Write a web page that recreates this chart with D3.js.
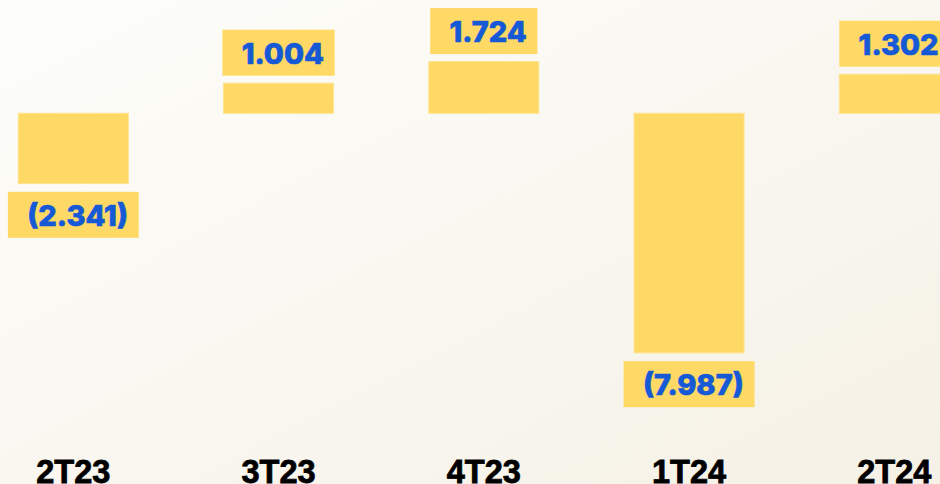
<!DOCTYPE html>
<html>
<head>
<meta charset="utf-8">
<script src="https://cdn.jsdelivr.net/npm/d3@7"></script>
<style>
  html, body { margin: 0; padding: 0; overflow: hidden; }
  body { width: 940px; height: 484px; }
</style>
</head>
<body>
<svg id="chart" width="940" height="484"></svg>
<script>
const categories = ["2T23", "3T23", "4T23", "1T24", "2T24"];
const values = [-2.341, 1.004, 1.724, -7.987, 1.302];
const valueLabels = ["(2.341)", "1.004", "1.724", "(7.987)", "1.302"];

const W = 940, H = 484;
const svg = d3.select("#chart");

const defs = svg.append("defs");
const grad = defs.append("linearGradient").attr("id", "bg")
  .attr("x1", "0%").attr("y1", "0%").attr("x2", "100%").attr("y2", "100%");
grad.append("stop").attr("offset", "0%").attr("stop-color", "#fdfdfa");
grad.append("stop").attr("offset", "100%").attr("stop-color", "#f5f1e6");
svg.append("rect").attr("width", W).attr("height", H).attr("fill", "url(#bg)");

const x = d3.scalePoint().domain(categories).range([73.3, 894.3]);
const y = d3.scaleLinear().domain([0, 1]).range([113.3, 83.3]);
const barW = 110;
const barColor = "#ffd966";

const g = svg.append("g");

categories.forEach((c, i) => {
  const v = values[i];
  const cx = x(c);
  const y0 = y(0), y1 = y(v);
  g.append("rect")
    .attr("x", cx - barW / 2)
    .attr("y", Math.min(y0, y1))
    .attr("width", barW)
    .attr("height", Math.abs(y1 - y0))
    .attr("fill", barColor)
    .attr("stroke", "#ffe38f")
    .attr("stroke-width", 1);

  const boxH = 46;
  const boxTop = v >= 0 ? y1 - 7.5 - boxH : y1 + 8.3;
  const lg = g.append("g");
  const box = lg.append("rect").attr("fill", barColor);
  const txt = lg.append("text")
    .attr("font-family", "Inter, 'Open Sans', sans-serif")
    .attr("font-weight", 800)
    .attr("font-size", 29)
    .attr("fill", "#1559d6")
    .attr("stroke", "#1559d6")
    .attr("stroke-width", 0.7)
    .attr("text-anchor", "middle")
    .attr("x", cx + 4.3)
    .attr("y", boxTop + boxH / 2 + 11)
    .text(valueLabels[i]);
  const tw = txt.node().getComputedTextLength();
  const bw = tw + 30;
  box.attr("x", cx - bw / 2).attr("y", boxTop).attr("width", bw).attr("height", boxH);
});

g.selectAll("text.cat")
  .data(categories)
  .enter().append("text")
  .attr("class", "cat")
  .attr("x", d => x(d))
  .attr("y", 483)
  .attr("text-anchor", "middle")
  .attr("font-family", "'Liberation Sans', Arial, sans-serif")
  .attr("font-weight", 700)
  .attr("font-size", 32.5)
  .attr("fill", "#000")
  .attr("stroke", "#000")
  .attr("stroke-width", 0.8)
  .text(d => d);
</script>
</body>
</html>
